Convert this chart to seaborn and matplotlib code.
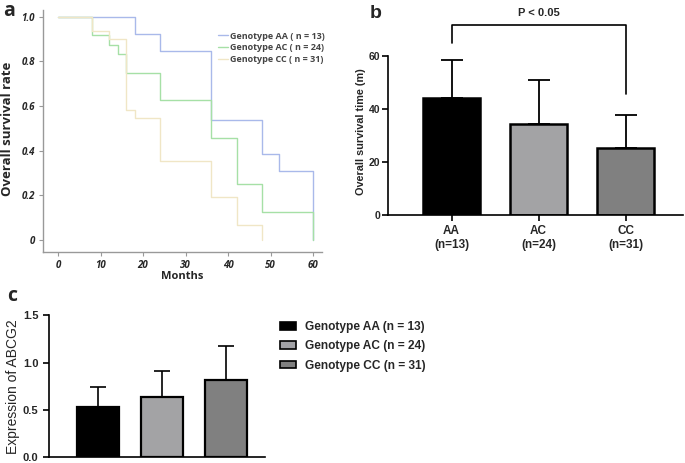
import numpy as np
import pandas as pd
import matplotlib
matplotlib.use("Agg")
import matplotlib.pyplot as plt
import seaborn as sns
from matplotlib.patches import Patch

# ---------------------------
# Data
# ---------------------------
# Kaplan-Meier steps (months, survival)
aa_months = [0, 18, 24, 36, 48, 52, 60]
aa_surv = [1.0, 0.923, 0.846, 0.538, 0.385, 0.308, 0.0]
ac_months = [0, 8, 12, 14, 16, 24, 36, 42, 48, 60]
ac_surv = [1.0, 0.917, 0.875, 0.833, 0.75, 0.625, 0.458, 0.25, 0.125, 0.0]
cc_months = [0, 8, 12, 16, 18, 24, 36, 42, 48]
cc_surv = [1.0, 0.935, 0.903, 0.581, 0.548, 0.355, 0.194, 0.065, 0.0]

km_labels = ["Genotype AA ( n = 13)", "Genotype AC ( n = 24)", "Genotype CC ( n = 31)"]
km_colors = ["#a9b9ea", "#a6e0a6", "#f0e6c6"]

genotypes = ["AA\n(n=13)", "AC\n(n=24)", "CC\n(n=31)"]
os_mean = [44.0, 34.2, 25.4]
os_sd = [14.5, 16.5, 12.4]

abcg2_mean = [0.53, 0.635, 0.815]
abcg2_sd = [0.21, 0.275, 0.355]
bar_labels = ["Genotype AA (n = 13)", "Genotype AC (n = 24)", "Genotype CC (n = 31)"]
bar_colors = ["#000000", "#a2a2a6", "#808080"]

sns.set_style("white")
plt.rcParams["font.family"] = ["Liberation Sans", "DejaVu Sans"]
calib = ["Open Sans", "DejaVu Sans"]

fig = plt.figure(figsize=(6.85, 4.63), dpi=100)

# ---------------------------
# Panel a: survival curves
# ---------------------------
ax_a = fig.add_axes([0.063, 0.456, 0.407, 0.522])
for t, s, lab, col in zip([aa_months, ac_months, cc_months],
                          [aa_surv, ac_surv, cc_surv], km_labels, km_colors):
    sns.lineplot(x=t, y=s, ax=ax_a, drawstyle="steps-post", color=col,
                 linewidth=1.0, label=lab, estimator=None)
ax_a.set_xlim(-3.5, 62.1)
ax_a.set_ylim(-0.054, 1.03)
ax_a.set_xticks([0, 10, 20, 30, 40, 50, 60])
ax_a.set_yticks([0, 0.2, 0.4, 0.6, 0.8, 1.0])
ax_a.set_yticklabels(["0", "0.2", "0.4", "0.6", "0.8", "1.0"])
for lbl in ax_a.get_xticklabels() + ax_a.get_yticklabels():
    lbl.set_fontstyle("italic")
    lbl.set_fontweight("bold")
    lbl.set_fontsize(7)
    lbl.set_family(calib)
ax_a.tick_params(axis="both", length=3, width=0.8, color="#999999", pad=3, direction="out")
ax_a.tick_params(axis="x", bottom=True)
ax_a.tick_params(axis="y", left=True)
for side in ["top", "right"]:
    ax_a.spines[side].set_visible(False)
for side in ["left", "bottom"]:
    ax_a.spines[side].set_color("#999999")
    ax_a.spines[side].set_linewidth(1.0)
ax_a.set_xlabel("Months", fontsize=8, fontweight="bold", family=calib, labelpad=0)
ax_a.set_ylabel("Overall survival rate", fontsize=9.5, fontweight="bold", family=calib)
ax_a.yaxis.set_label_coords(-0.105, 0.51)
leg = ax_a.legend(loc="upper right", bbox_to_anchor=(1.04, 0.945), frameon=False,
                  prop={"family": calib, "weight": "bold", "size": 6.5},
                  handlelength=1.2, handletextpad=0.2, labelspacing=0.3)
for txt in leg.get_texts():
    txt.set_color("#444444")

# ---------------------------
# Panel b: overall survival time
# ---------------------------
ax_b = fig.add_axes([0.5664, 0.5356, 0.4307, 0.43])
df_b = pd.DataFrame({"genotype": genotypes, "months": os_mean})
sns.barplot(data=df_b, x="genotype", y="months", hue="genotype", palette=bar_colors,
            width=0.655, edgecolor="black", linewidth=1.8, ax=ax_b, legend=False)
ax_b.errorbar(range(3), os_mean, yerr=[np.zeros(3), os_sd], fmt="none",
              ecolor="black", elinewidth=1.3, capsize=8, capthick=1.3)
ax_b.set_xlim(-0.73, 2.66)
ax_b.set_ylim(0, 75)
ax_b.set_yticks([0, 20, 40, 60])
ax_b.spines["left"].set_bounds(0, 60)
for side in ["top", "right"]:
    ax_b.spines[side].set_visible(False)
for side in ["left", "bottom"]:
    ax_b.spines[side].set_color("black")
    ax_b.spines[side].set_linewidth(1.2)
ax_b.tick_params(axis="both", length=4, width=1.2, color="black", bottom=True, left=True)
ax_b.tick_params(axis="x", labelsize=8.5, pad=3)
ax_b.tick_params(axis="y", labelsize=7.5, pad=1.5)
for lbl in ax_b.get_xticklabels() + ax_b.get_yticklabels():
    lbl.set_fontweight("bold")
ax_b.set_xlabel("")
ax_b.set_ylabel("Overall survival time (m)", fontsize=7.8, fontweight="bold")
ax_b.yaxis.set_label_coords(-0.075, 0.42)
# significance bracket
br_y = 71.7
ax_b.plot([0, 0, 2, 2], [os_mean[0] + os_sd[0] + 6.4, br_y, br_y, 45.5],
          color="black", linewidth=1.2, clip_on=False)
ax_b.text(1, br_y + 2.5, "P < 0.05", ha="center", va="bottom", fontsize=8, fontweight="bold")

# ---------------------------
# Panel c: ABCG2 expression
# ---------------------------
ax_c = fig.add_axes([0.0715, 0.0125, 0.315, 0.3067])
df_c = pd.DataFrame({"genotype": bar_labels, "expr": abcg2_mean})
sns.barplot(data=df_c, x="genotype", y="expr", hue="genotype", palette=bar_colors,
            width=0.655, edgecolor="black", linewidth=1.6, ax=ax_c, legend=False)
ax_c.errorbar(range(3), abcg2_mean, yerr=[np.zeros(3), abcg2_sd], fmt="none",
              ecolor="black", elinewidth=1.2, capsize=6, capthick=1.2)
ax_c.set_xlim(-0.766, 2.61)
ax_c.set_ylim(0, 1.5)
ax_c.set_yticks([0, 0.5, 1.0, 1.5])
ax_c.set_xticks([])
for side in ["top", "right"]:
    ax_c.spines[side].set_visible(False)
for side in ["left", "bottom"]:
    ax_c.spines[side].set_color("black")
    ax_c.spines[side].set_linewidth(1.2)
ax_c.tick_params(axis="y", length=4, width=1.2, color="black", left=True, labelsize=8)
for lbl in ax_c.get_yticklabels():
    lbl.set_fontweight("bold")
ax_c.set_xlabel("")
ax_c.set_ylabel("Expression of ABCG2", fontsize=10)
ax_c.yaxis.set_label_coords(-0.135, 0.5)
handles = [Patch(facecolor=c, edgecolor="black", linewidth=1.2) for c in bar_colors]
fig.legend(handles, bar_labels, loc="upper left", bbox_to_anchor=(0.393, 0.330),
           frameon=False, prop={"size": 8.6, "weight": "bold"},
           handlelength=1.35, handleheight=0.6, handletextpad=0.76, labelspacing=0.62)

# panel letters
fig.text(0.004, 0.997, "a", fontsize=14, fontweight="bold", va="top", family=calib)
fig.text(0.54, 0.99, "b", fontsize=14, fontweight="bold", va="top")
fig.text(0.01, 0.382, "c", fontsize=14, fontweight="bold", va="top", family=calib)

fig.savefig("out.png", dpi=100)
